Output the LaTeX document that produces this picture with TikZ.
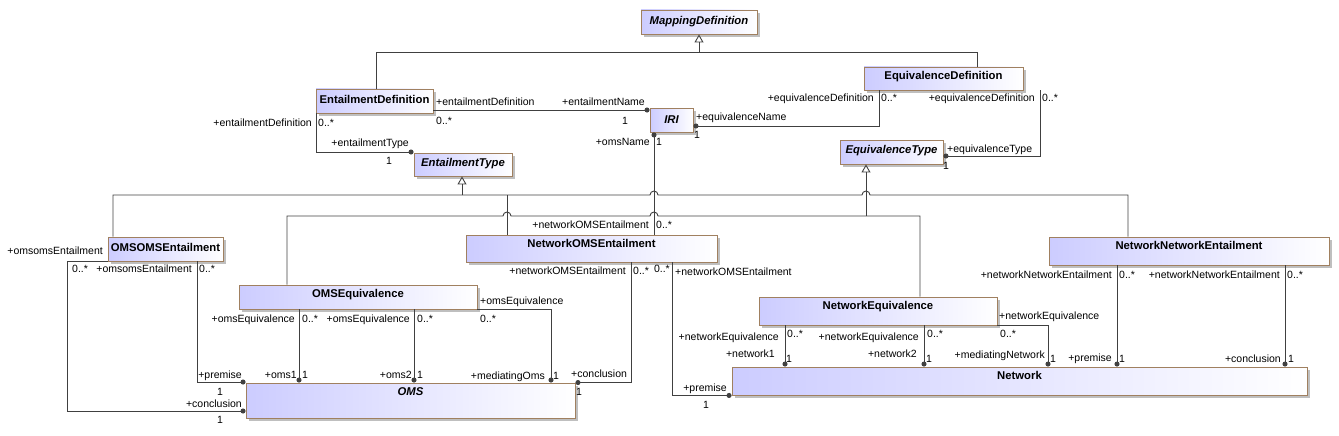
\documentclass[tikz,border=0pt]{standalone}
\usepackage{fontspec}
\setmainfont{Liberation Sans}
\usetikzlibrary{arrows.meta,shadows}
\definecolor{umlfill}{RGB}{204,204,255}
\definecolor{umledge}{RGB}{160,128,96}
\definecolor{umlline}{RGB}{64,64,64}
\tikzset{
  cls/.style={draw=umledge, line width=0.9pt, left color=umlfill, right color=white, inner sep=0pt,
    drop shadow={shadow xshift=3pt, shadow yshift=-3pt, fill=black!25, opacity=1}},
  ttl/.style={font=\fontsize{11.3}{13}\selectfont\bfseries, inner sep=0pt},
  lab/.style={font=\fontsize{10.5}{12}\selectfont, inner sep=0pt},
  line/.style={draw=umlline, line width=0.9pt},
  assoc/.style={line, -{Circle[length=5pt]}},
  gen/.style={line, -{Triangle[open, length=8pt, width=9pt]}},
}
\begin{document}
\begin{tikzpicture}[x=1pt, y=-1pt]
  \useasboundingbox (0,0) rectangle (1339,436);
  % classes
  \node[cls, minimum width=116, minimum height=24] (MD) at (699,22) {};
  \node[cls, minimum width=117, minimum height=24] (ED) at (374.5,101) {};
  \node[cls, minimum width=159, minimum height=23] (EqD) at (943.5,78.5) {};
  \node[cls, minimum width=43, minimum height=24] (IRI) at (671.5,120) {};
  \node[cls, minimum width=98, minimum height=23] (ET) at (463,164.5) {};
  \node[cls, minimum width=103, minimum height=24] (EqT) at (891.5,152) {};
  \node[cls, minimum width=115, minimum height=24] (OOE) at (165.5,249) {};
  \node[cls, minimum width=251, minimum height=27] (NOE) at (591.5,248.5) {};
  \node[cls, minimum width=280, minimum height=28] (NNE) at (1189,251) {};
  \node[cls, minimum width=238, minimum height=24] (OEq) at (358,297) {};
  \node[cls, minimum width=238, minimum height=28] (NEq) at (878,311) {};
  \node[cls, minimum width=329, minimum height=35] (OMS) at (410.5,400.5) {};
  \node[cls, minimum width=575, minimum height=28] (Net) at (1019.5,381) {};
  \node[ttl] (MDt) at ([yshift=-12]MD.north) {\itshape MappingDefinition};
  \node[ttl] (EDt) at ([yshift=-11]ED.north) {EntailmentDefinition};
  \node[ttl] (EqDt) at ([yshift=-10]EqD.north) {EquivalenceDefinition};
  \node[ttl] (IRIt) at ([yshift=-12]IRI.north) {\itshape IRI};
  \node[ttl] (ETt) at ([yshift=-11]ET.north) {\itshape EntailmentType};
  \node[ttl] (EqTt) at ([yshift=-11]EqT.north) {\itshape EquivalenceType};
  \node[ttl] (OOEt) at ([yshift=-11]OOE.north) {OMSOMSEntailment};
  \node[ttl] (NOEt) at ([yshift=-9]NOE.north) {NetworkOMSEntailment};
  \node[ttl] (NNEt) at ([yshift=-9]NNE.north) {NetworkNetworkEntailment};
  \node[ttl] (OEqt) at ([yshift=-10]OEq.north) {OMSEquivalence};
  \node[ttl] (NEqt) at ([yshift=-10]NEq.north) {NetworkEquivalence};
  \node[ttl] (OMSt) at ([yshift=-9]OMS.north) {\itshape OMS};
  \node[ttl] (Nett) at ([yshift=-9]Net.north) {Network};
  % generalizations
  \draw[line] (376,0 |- ED.north) |- (977,52) -- (977,0 |- EqD.north);
  \draw[gen] (699,52) -- (MD.south);
  \draw[line] (113,0 |- OOE.north) |- (650,195) arc[start angle=180, end angle=0, radius=4pt]
    -- (862,195) arc[start angle=180, end angle=0, radius=4pt] -- (1128,195) -- (1128,0 |- NNE.north);
  \draw[line] (507,195) -- (507,0 |- NOE.north);
  \draw[gen] (462,195) -- (462,0 |- ET.south);
  \draw[line] (287,0 |- OEq.north) |- (503,216) arc[start angle=180, end angle=0, radius=4pt]
    -- (650,216) arc[start angle=180, end angle=0, radius=4pt] -- (920,216) -- (920,0 |- NEq.north);
  \draw[gen] (866,216) -- (866,0 |- EqT.south);
  % associations
  \draw[assoc] (ED.east |- 0,110) -- (IRI.west |- 0,110);
  \draw[assoc] (316,0 |- ED.south) |- (ET.west |- 0,152);
  \draw[assoc] (879,0 |- EqD.south) |- (IRI.east |- 0,126);
  \draw[assoc] (1040,0 |- EqD.south) |- (EqT.east |- 0,156);
  \draw[assoc] (654,0 |- NOE.north) -- (654,0 |- IRI.south);
  \draw[assoc] (OOE.south west) -| (67,411) -- (OMS.west |- 0,411);
  \draw[assoc] (197,0 |- OOE.south) |- (OMS.west |- 0,382);
  \draw[assoc] (299,0 |- OEq.south) -- (299,0 |- OMS.north);
  \draw[assoc] (414,0 |- OEq.south) -- (414,0 |- OMS.north);
  \draw[assoc] (OEq.south east) -| (551,0 |- OMS.north);
  \draw[assoc] (631,0 |- NOE.south) |- (OMS.north east);
  \draw[assoc] (672,0 |- NOE.south) |- (Net.south west);
  \draw[assoc] (785,0 |- NEq.south) -- (785,0 |- Net.north);
  \draw[assoc] (924,0 |- NEq.south) -- (924,0 |- Net.north);
  \draw[assoc] (NEq.south east) -| (1048,0 |- Net.north);
  \draw[assoc] (1117,0 |- NNE.south) -- (1117,0 |- Net.north);
  \draw[assoc] (1285,0 |- NNE.south) -- (1285,0 |- Net.north);
  % role names and multiplicities
  \node[lab, anchor=base west] (a1) at (436,105) {+entailmentDefinition};
  \node[lab, anchor=base west] (a2) at (436,124) {0..*};
  \node[lab, anchor=base east] (a3) at (645,105) {+entailmentName};
  \node[lab, anchor=base] (a4) at (625,124) {1};
  \node[lab, anchor=base east] (b1) at (312,126) {+entailmentDefinition};
  \node[lab, anchor=base west] (b2) at (318,126) {0..*};
  \node[lab, anchor=base east] (b3) at (409,146) {+entailmentType};
  \node[lab, anchor=base] (b4) at (389,164) {1};
  \node[lab, anchor=base west] (c1) at (696,120) {+equivalenceName};
  \node[lab, anchor=base west] (c2) at (694,138) {1};
  \node[lab, anchor=base east] (c3) at (874,102) {+equivalenceDefinition};
  \node[lab, anchor=base west] (c4) at (881,102) {0..*};
  \node[lab, anchor=base east] (d1) at (1035,102) {+equivalenceDefinition};
  \node[lab, anchor=base west] (d2) at (1042,102) {0..*};
  \node[lab, anchor=base west] (d3) at (947,152) {+equivalenceType};
  \node[lab, anchor=base west] (d4) at (943,169) {1};
  \node[lab, anchor=base east] (e1) at (650,145) {+omsName};
  \node[lab, anchor=base west] (e2) at (656,145) {1};
  \node[lab, anchor=base east] (e3) at (649,228) {+networkOMSEntailment};
  \node[lab, anchor=base west] (e4) at (656,228) {0..*};
  \node[lab, anchor=base east] (f1) at (103,254) {+omsomsEntailment};
  \node[lab, anchor=base west] (f2) at (72,272) {0..*};
  \node[lab, anchor=base east] (f3) at (242,407) {+conclusion};
  \node[lab, anchor=base] (f4) at (220,423) {1};
  \node[lab, anchor=base east] (g1) at (192,272) {+omsomsEntailment};
  \node[lab, anchor=base west] (g2) at (199,272) {0..*};
  \node[lab, anchor=base east] (g3) at (242,378) {+premise};
  \node[lab, anchor=base] (g4) at (220,395) {1};
  \node[lab, anchor=base east] (h1) at (295,322) {+omsEquivalence};
  \node[lab, anchor=base west] (h2) at (302,322) {0..*};
  \node[lab, anchor=base east] (h3) at (297,378) {+oms1};
  \node[lab, anchor=base west] (h4) at (302,378) {1};
  \node[lab, anchor=base east] (i1) at (410,322) {+omsEquivalence};
  \node[lab, anchor=base west] (i2) at (417,322) {0..*};
  \node[lab, anchor=base east] (i3) at (412,378) {+oms2};
  \node[lab, anchor=base west] (i4) at (417,378) {1};
  \node[lab, anchor=base west] (j1) at (480,304) {+omsEquivalence};
  \node[lab, anchor=base west] (j2) at (480,322) {0..*};
  \node[lab, anchor=base east] (j3) at (545,379) {+mediatingOms};
  \node[lab, anchor=base west] (j4) at (553,379) {1};
  \node[lab, anchor=base east] (k1) at (626,274) {+networkOMSEntailment};
  \node[lab, anchor=base west] (k2) at (633,274) {0..*};
  \node[lab, anchor=base west] (k3) at (571,377) {+conclusion};
  \node[lab, anchor=base west] (k4) at (576,395) {1};
  \node[lab, anchor=base east] (l1) at (670,272) {0..*};
  \node[lab, anchor=base west] (l2) at (675,275) {+networkOMSEntailment};
  \node[lab, anchor=base east] (l3) at (727,391) {+premise};
  \node[lab, anchor=base] (l4) at (706,408) {1};
  \node[lab, anchor=base east] (m1) at (779,340) {+networkEquivalence};
  \node[lab, anchor=base west] (m2) at (787,337) {0..*};
  \node[lab, anchor=base east] (m3) at (775,357) {+network1};
  \node[lab, anchor=base west] (m4) at (786,362) {1};
  \node[lab, anchor=base east] (n1) at (919,340) {+networkEquivalence};
  \node[lab, anchor=base west] (n2) at (927,337) {0..*};
  \node[lab, anchor=base east] (n3) at (917,357) {+network2};
  \node[lab, anchor=base west] (n4) at (926,362) {1};
  \node[lab, anchor=base west] (o1) at (999,319) {+networkEquivalence};
  \node[lab, anchor=base west] (o2) at (1000,337) {0..*};
  \node[lab, anchor=base east] (o3) at (1045,358) {+mediatingNetwork};
  \node[lab, anchor=base west] (o4) at (1050,362) {1};
  \node[lab, anchor=base east] (p1) at (1112,278) {+networkNetworkEntailment};
  \node[lab, anchor=base west] (p2) at (1119,278) {0..*};
  \node[lab, anchor=base east] (p3) at (1112,361) {+premise};
  \node[lab, anchor=base west] (p4) at (1119,362) {1};
  \node[lab, anchor=base east] (q1) at (1280,278) {+networkNetworkEntailment};
  \node[lab, anchor=base west] (q2) at (1287,278) {0..*};
  \node[lab, anchor=base east] (q3) at (1281,362) {+conclusion};
  \node[lab, anchor=base west] (q4) at (1288,362) {1};
\end{tikzpicture}
\end{document}
